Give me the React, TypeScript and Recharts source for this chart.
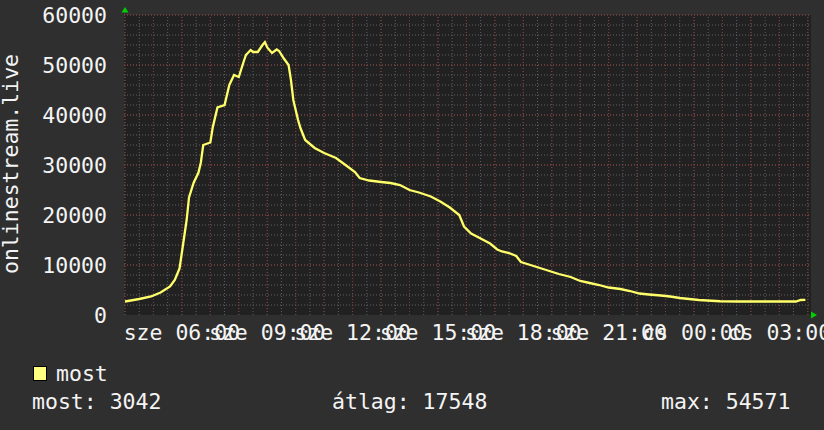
import React from 'react';
import { LineChart, Line, XAxis, YAxis, ReferenceLine, ReferenceArea, ReferenceDot } from 'recharts';

const FONT = '"DejaVu Sans Mono", "Liberation Mono", monospace';

// sample clock times (sze 04:00 -> cs 03:55)
const sampleTimes = [
  '04:00', '04:30', '04:55', '05:15', '05:35', '05:45', '05:55', '06:00', '06:10', '06:15',
  '06:25', '06:35', '06:40', '06:45', '07:00', '07:05', '07:15', '07:30', '07:40', '07:50',
  '08:00', '08:10', '08:15', '08:25', '08:30', '08:40', '08:50', '08:55', '09:00', '09:10',
  '09:20', '09:25', '09:35', '09:45', '09:50', '09:55', '10:00', '10:05', '10:10', '10:20',
  '10:40', '11:00', '11:25', '11:45', '12:05', '12:15', '12:35', '13:00', '13:20', '13:40',
  '14:00', '14:20', '14:45', '15:05', '15:25', '15:45', '15:55', '16:10', '16:30', '16:50',
  '17:05', '17:15', '17:30', '17:45', '17:55', '18:15', '18:35', '18:55', '19:15', '19:40',
  '20:00', '20:20', '20:40', '21:00', '21:25', '21:45', '22:05', '22:25', '22:50', '23:10',
  '23:30', '23:50', '00:10', '00:55', '01:35', '02:20', '03:00', '03:35', '03:45', '03:55',
];

const visitors = [
  2700, 3200, 3700, 4500, 5700, 7000, 9300, 12500, 19000, 23500,
  26500, 28500, 30500, 34000, 34500, 37500, 41500, 42000, 46000, 48000,
  47600, 50600, 52000, 53000, 52600, 52600, 54000, 54571, 53500, 52400,
  53100, 52800, 51300, 50000, 47000, 43000, 41000, 39000, 37400, 35000,
  33400, 32400, 31400, 30000, 28600, 27400, 26900, 26600, 26400, 26000,
  25000, 24500, 23700, 22700, 21500, 20000, 17700, 16300, 15300, 14300,
  13100, 12700, 12400, 11800, 10600, 10000, 9400, 8800, 8200, 7600,
  6800, 6400, 6000, 5500, 5200, 4800, 4300, 4100, 3900, 3700,
  3400, 3200, 3000, 2750, 2700, 2700, 2700, 2700, 3000, 3042,
];

const yTicks = [0, 10000, 20000, 30000, 40000, 50000, 60000];
const xLabelHours = [6, 9, 12, 15, 18, 21, 24, 27];
const xLabelTexts = ['sze 06:00', 'sze 09:00', 'sze 12:00', 'sze 15:00', 'sze 18:00', 'sze 21:00', 'cs 00:00', 'cs 03:00'];

const axisTitle = 'onlinestream.live';
const seriesName = 'most';
const statLabels = ['most', 'átlag', 'max'];
const statValues = [3042, 17548, 54571];

const X_MIN = 3.965;
const X_MAX = 28.113;
const Y_MAX = 60000;

const parseClock = (t: string) => {
  const [hh, mm] = t.split(':').map(Number);
  const h = hh + mm / 60;
  return hh < 4 ? h + 24 : h;
};

const data = sampleTimes.map((t, i) => ({ h: parseClock(t), v: visitors[i] }));

const minorX: number[] = [];
for (let v = 4; v <= 28; v += 0.5) minorX.push(v);
const majorX: number[] = [];
for (let v = 4; v <= 28; v += 1) majorX.push(v);
const minorY: number[] = [];
for (let v = 2000; v <= Y_MAX; v += 2000) minorY.push(v);
const majorY: number[] = [];
for (let v = 10000; v <= Y_MAX; v += 10000) majorY.push(v);

const TEXT = '#f4f4f4';
const MINOR = '#606060';
const MAJOR = '#883838';
const LINE = '#ffff6a';

const XTick = (props: any) => {
  const { x, y, payload } = props;
  const i = xLabelHours.indexOf(payload.value);
  return (
    <text x={x} y={y + 23} textAnchor="middle" fill={TEXT} fontFamily={FONT} fontSize={21.5}>
      {xLabelTexts[i]}
    </text>
  );
};

const YTick = (props: any) => {
  const { x, y, payload } = props;
  return (
    <text x={x} y={y + 7.5} textAnchor="end" fill={TEXT} fontFamily={FONT} fontSize={21.5}>
      {payload.value}
    </text>
  );
};

const UpArrow = (p: any) => (
  <polygon points={`${p.cx - 3.5},${p.cy - 2.5} ${p.cx + 3.5},${p.cy - 2.5} ${p.cx},${p.cy - 8}`} fill="#00d000" />
);
const RightArrow = (p: any) => (
  <polygon points={`${p.cx},${p.cy - 3.5} ${p.cx},${p.cy + 3.5} ${p.cx + 6},${p.cy}`} fill="#00d000" />
);

export default function App() {
  return (
    <div style={{ position: 'absolute', left: 0, top: 0, width: 824, height: 430, background: '#2f2f2f', overflow: 'hidden' }}>
      <LineChart width={824} height={430} data={data} margin={{ top: 15, right: 13, left: 0, bottom: 85 }}>
        <XAxis
          type="number"
          dataKey="h"
          domain={[X_MIN, X_MAX]}
          ticks={xLabelHours}
          tick={<XTick />}
          axisLine={false}
          tickLine={false}
          tickSize={0}
          height={30}
          allowDataOverflow
          interval={0}
        />
        <YAxis
          type="number"
          domain={[0, Y_MAX]}
          ticks={yTicks}
          tick={<YTick />}
          axisLine={false}
          tickLine={false}
          tickSize={0}
          tickMargin={17}
          width={124}
          interval={0}
        />
        <ReferenceArea x1={X_MIN} x2={X_MAX} y1={0} y2={Y_MAX} fill="#212121" fillOpacity={1} stroke="none" ifOverflow="visible" />
        {minorY.map((v) => (
          <ReferenceLine key={'my' + v} y={v} stroke={MINOR} strokeDasharray="1 2" strokeWidth={1} />
        ))}
        {minorX.map((v) => (
          <ReferenceLine key={'mx' + v} x={v} stroke={MINOR} strokeDasharray="1 2" strokeWidth={1} />
        ))}
        {majorY.map((v) => (
          <ReferenceLine key={'My' + v} y={v} stroke={MAJOR} strokeDasharray="1 2" strokeWidth={1} />
        ))}
        {majorX.map((v) => (
          <ReferenceLine key={'Mx' + v} x={v} stroke={MAJOR} strokeDasharray="1 2" strokeWidth={1} />
        ))}
        <Line
          type="linear"
          dataKey="v"
          stroke={LINE}
          strokeWidth={2.3}
          dot={false}
          activeDot={false}
          isAnimationActive={false}
        />
        <ReferenceDot x={4} y={Y_MAX} r={0} shape={UpArrow} ifOverflow="visible" />
        <ReferenceDot x={X_MAX} y={0} r={0} shape={RightArrow} ifOverflow="visible" />
      </LineChart>
      <svg width={824} height={430} style={{ position: 'absolute', left: 0, top: 0, pointerEvents: 'none' }}>
        <text x={18} y={164} transform="rotate(-90 18 164)" textAnchor="middle" fill={TEXT} fontFamily={FONT} fontSize={21.5}>
          {axisTitle}
        </text>
        <rect x={33.5} y={366.5} width={13} height={14} fill="#ffff80" stroke="#000" strokeWidth={1} />
        <text x={56} y={381} fill={TEXT} fontFamily={FONT} fontSize={21.5}>{seriesName}</text>
        <text x={32} y={409} fill={TEXT} fontFamily={FONT} fontSize={21.5}>{`${statLabels[0]}: ${statValues[0]}`}</text>
        <text x={332} y={409} fill={TEXT} fontFamily={FONT} fontSize={21.5}>{`${statLabels[1]}: ${statValues[1]}`}</text>
        <text x={661} y={409} fill={TEXT} fontFamily={FONT} fontSize={21.5}>{`${statLabels[2]}: ${statValues[2]}`}</text>
      </svg>
    </div>
  );
}
